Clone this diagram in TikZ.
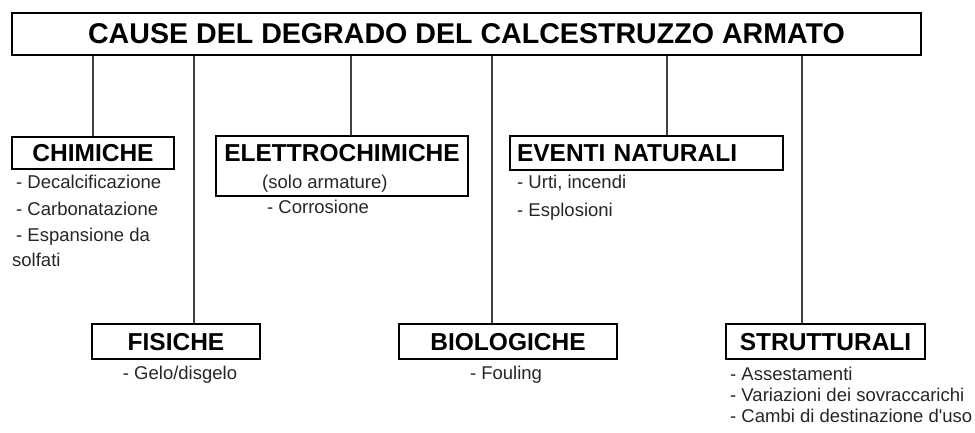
\documentclass[tikz,border=0pt]{standalone}
\usepackage{fontspec}
\setmainfont{Liberation Sans}[Ligatures=TeXOff]
\usepackage{tikz}
\usetikzlibrary{positioning}
\usetikzlibrary{calc}
\tikzset{
	semithick,
	titlebox/.style ={rectangle, draw, line width=2.8pt, inner sep=0pt,
		font=\bfseries\fontsize{28.6}{32}\selectfont, text height=20pt, text depth=0pt},
	catbox/.style = {rectangle, draw, line width=2.8pt, inner sep=0pt,
		font=\bfseries\fontsize{24.5}{28}\selectfont, text height=17pt, text depth=0pt},
	item/.style = {inner sep=0pt, text=black!85, font=\fontsize{18.5}{22}\selectfont},
	branch/.style = {draw=black!75, line width=1.3pt},
}

\begin{document}
\begin{tikzpicture}[x=1pt, y=-1pt]
	\useasboundingbox (0,0) rectangle (975,433);
	\node (cause) [titlebox, minimum width=909pt, minimum height=42pt] at (466.5,34) {CAUSE DEL DEGRADO DEL CALCESTRUZZO ARMATO};
	% upper row
	\node (chim) [catbox, minimum width=162pt, minimum height=32pt] at (93,153) {CHIMICHE};
	\node (elettro) [catbox, minimum width=252pt, minimum height=60pt, text depth=26pt] at (342,166) {ELETTROCHIMICHE};
	\node (eventi) [catbox, minimum width=273pt, minimum height=34pt, text width=259pt, align=left] at (646.5,153) {EVENTI NATURALI};
	% lower row
	\node (fis) [catbox, minimum width=168pt, minimum height=35pt] at (176,341.5) {FISICHE};
	\node (bio) [catbox, minimum width=218pt, minimum height=35pt] at (508,341.5) {BIOLOGICHE};
	\node (strutt) [catbox, minimum width=199pt, minimum height=35pt] at (825.5,341.5) {STRUTTURALI};
	% items
	\node (chim1) [item, anchor=base west] at (16,189) {- Decalcificazione};
	\node (chim2) [item, anchor=base west] at (16,215) {- Carbonatazione};
	\node (chim3) [item, anchor=base west] at (16,241) {- Espansione da};
	\node (chim4) [item, anchor=base west] at (12,266) {solfati};
	\node (solo) [item, anchor=base west] at (262,189) {(solo armature)};
	\node (corr) [item, anchor=base west] at (267,214) {- Corrosione};
	\node (ev1) [item, anchor=base west] at (517,189) {- Urti, incendi};
	\node (ev2) [item, anchor=base west] at (517,216) {- Esplosioni};
	\node (gelo) [item, anchor=base] at (180,379) {- Gelo/disgelo};
	\node (foul) [item, anchor=base] at (506,379) {- Fouling};
	\node (str1) [item, anchor=base west] at (730,380) {- Assestamenti};
	\node (str2) [item, anchor=base west] at (730,401) {- Variazioni dei sovraccarichi};
	\node (str3) [item, anchor=base west] at (730,422) {- Cambi di destinazione d'uso};
	% branches
	\foreach \nd/\xx in {chim/93, fis/194, elettro/351, bio/492, eventi/667, strutt/802}{
		\coordinate (k) at (\xx,0);
		\draw[branch] (cause.south -| k) -- (\nd.north -| k);
	}
\end{tikzpicture}
\end{document}
